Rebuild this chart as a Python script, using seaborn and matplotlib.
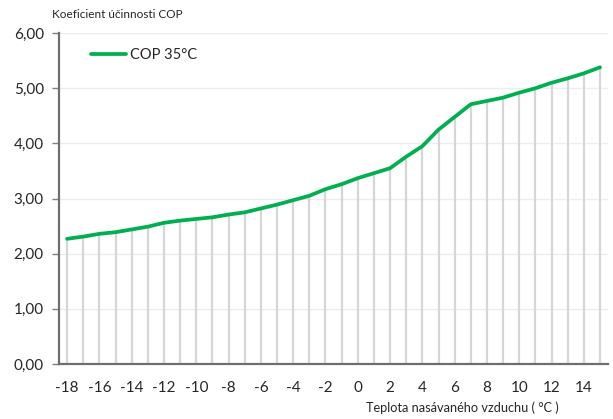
import matplotlib
matplotlib.use("Agg")
import matplotlib.pyplot as plt
import seaborn as sns
import pandas as pd

temps = list(range(-18, 16))
cop = [2.27, 2.31, 2.36, 2.39, 2.44, 2.49, 2.56, 2.60, 2.63, 2.66, 2.71, 2.75,
       2.82, 2.89, 2.97, 3.05, 3.17, 3.26, 3.37, 3.46, 3.55, 3.76, 3.95, 4.25,
       4.48, 4.71, 4.77, 4.83, 4.92, 5.00, 5.10, 5.18, 5.27, 5.38]
xticks = list(range(-18, 15, 2))
yticks = [0, 1, 2, 3, 4, 5, 6]
series_name = "COP 35°C"
ylabel = "Koeficient účinnosti COP"
xlabel = "Teplota nasávaného vzduchu ( °C )"

df = pd.DataFrame({"t": temps, "cop": cop})

sns.set_theme(style="white")
plt.rcParams['font.family'] = ['Lato', 'DejaVu Sans']

fig = plt.figure(figsize=(6.13, 4.19), dpi=100)
ax = fig.add_axes([0.0963, 0.1313, 0.8957, 0.7897])

for y in yticks[1:]:
    ax.axhline(y, color="#ececec", lw=1.0, zorder=0)

ax.vlines(df["t"], 0, df["cop"], color="#d6d6d6", lw=1.6, zorder=1)
sns.lineplot(data=df, x="t", y="cop", ax=ax, color="#00b050", lw=2.7,
             label=series_name, zorder=3)

ax.set_xlim(-18.5, 15.5)
ax.set_ylim(0, 6)
ax.set_xticks(xticks)
ax.set_xticklabels([str(v) for v in xticks], fontsize=11)
ax.set_yticks(yticks)
ax.set_yticklabels([f"{v:.2f}".replace(".", ",") for v in yticks], fontsize=11)
ax.tick_params(axis="y", length=5, width=1, color="#808080", pad=6, left=True)
ax.tick_params(axis="x", length=0, pad=12)
ax.set_xlabel("")
ax.set_ylabel("")

for s in ["top", "right"]:
    ax.spines[s].set_visible(False)
for s in ["left", "bottom"]:
    ax.spines[s].set_color("#6e6e6e")
    ax.spines[s].set_linewidth(1.6)

leg = ax.legend(loc="upper left", bbox_to_anchor=(0.035, 0.995), frameon=False,
                fontsize=10.5, handlelength=2.4, handletextpad=0.25)

fig.text(52/613, 1 - 14/419, ylabel, fontsize=8.5, ha="left", va="center")
fig.text(462/613, 1 - 408/419, xlabel, fontsize=9.2, ha="center", va="center")

fig.savefig("out.png", dpi=100)
